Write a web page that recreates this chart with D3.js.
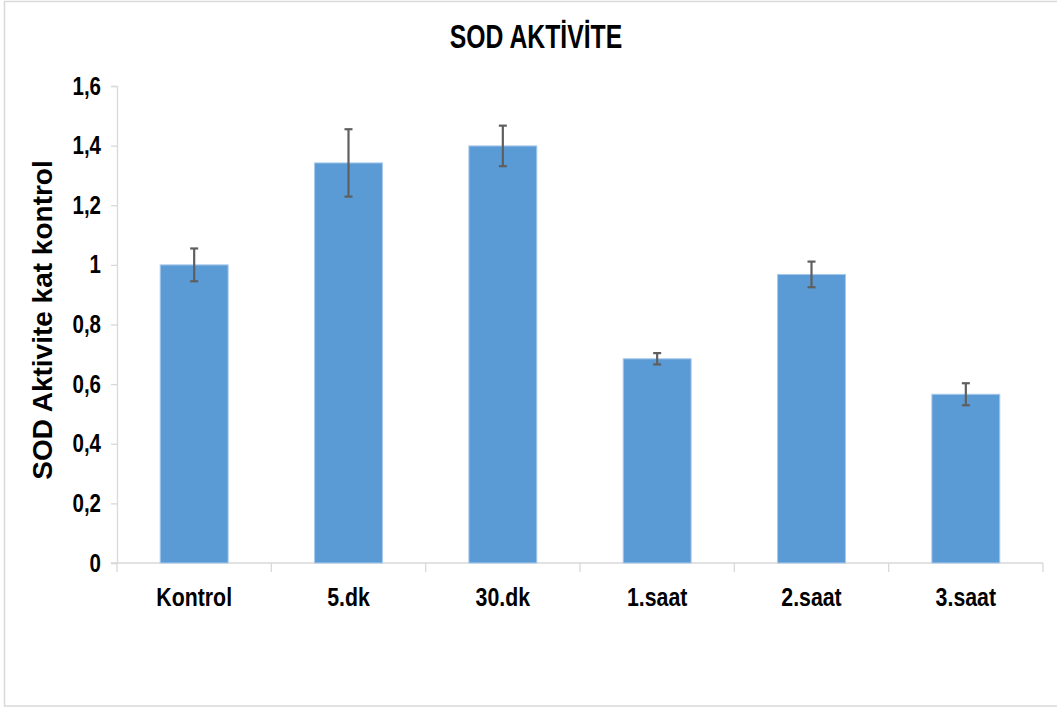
<!DOCTYPE html>
<html>
<head>
<meta charset="utf-8">
<script src="https://cdn.jsdelivr.net/npm/d3@7"></script>
<style>
  html, body { margin: 0; padding: 0; background: #fff; }
  svg { display: block; }
  .narrow { font-family: "Liberation Sans", Arial, sans-serif; font-weight: bold; }
</style>
</head>
<body>
<svg id="chart" width="1057" height="708"></svg>
<script>
// SOD activity, fold of control, with error bars
const categories = ["Kontrol", "5.dk", "30.dk", "1.saat", "2.saat", "3.saat"];
const means = [1.00, 1.342, 1.399, 0.685, 0.968, 0.566];
const errors = [0.055, 0.113, 0.068, 0.019, 0.043, 0.037];
const yTicks = [0, 0.2, 0.4, 0.6, 0.8, 1.0, 1.2, 1.4, 1.6];
const titleText = "SOD AKTİVİTE";
const yTitle = "SOD Aktivite kat kontrol";

const svg = d3.select("#chart");
const W = 1057, H = 708;
const plot = { left: 117, right: 1043, top: 86, bottom: 563 };
const squeeze = 0.82; // horizontal compression for the condensed labels

// outer chart frame
svg.append("rect")
  .attr("x", 4.5).attr("y", 1.5)
  .attr("width", W + 10).attr("height", 704.5)
  .attr("fill", "#fff").attr("stroke", "#d9d9d9").attr("stroke-width", 1.5);

const x = d3.scaleBand().domain(categories).range([plot.left, plot.right]).padding(0);
const y = d3.scaleLinear().domain([0, 1.6]).range([plot.bottom, plot.top]);
const barW = x.bandwidth() * 0.44;

// y axis
const yAxis = svg.append("g")
  .attr("transform", `translate(${plot.left},0)`)
  .call(d3.axisLeft(y).tickValues(yTicks).tickSize(6).tickPadding(16)
    .tickFormat(d => d3.format(".1~f")(d).replace(".", ",")));
yAxis.select(".domain").attr("stroke", "#d9d9d9").attr("stroke-width", 1.3);
yAxis.selectAll(".tick line").attr("stroke", "#d9d9d9").attr("stroke-width", 1.3);
yAxis.selectAll(".tick text")
  .attr("class", "narrow")
  .attr("font-size", 25)
  .attr("fill", "#000")
  .attr("x", -16 / squeeze)
  .attr("transform", `scale(${squeeze},1)`);

// x axis with boundary ticks between categories
const xAxisG = svg.append("g").attr("transform", `translate(0,${plot.bottom})`);
xAxisG.append("line")
  .attr("x1", plot.left - 6).attr("x2", plot.right)
  .attr("stroke", "#d9d9d9").attr("stroke-width", 1.5);
const bounds = categories.map(c => x(c) + x.bandwidth()).concat([plot.left]);
xAxisG.selectAll("line.bt").data(bounds).join("line")
  .attr("class", "bt")
  .attr("x1", d => d).attr("x2", d => d)
  .attr("y1", 0).attr("y2", 9)
  .attr("stroke", "#d9d9d9").attr("stroke-width", 1.3);
xAxisG.selectAll("text").data(categories).join("text")
  .attr("class", "narrow")
  .attr("transform", d => `translate(${x(d) + x.bandwidth() / 2},43) scale(${squeeze},1)`)
  .attr("text-anchor", "middle")
  .attr("font-size", 26)
  .attr("fill", "#000")
  .text(d => d);

// bars
const data = categories.map((c, i) => ({ c, v: means[i], e: errors[i] }));
svg.append("g").selectAll("rect").data(data).join("rect")
  .attr("x", d => x(d.c) + (x.bandwidth() - barW) / 2)
  .attr("y", d => y(d.v))
  .attr("width", barW)
  .attr("height", d => y(0) - y(d.v))
  .attr("fill", "#5b9bd5")
  .attr("stroke", "#a9c9ea")
  .attr("stroke-width", 1);

// error bars
const eg = svg.append("g").attr("stroke", "#5f5f5f").attr("stroke-width", 2.2);
data.forEach(d => {
  const cx = x(d.c) + x.bandwidth() / 2;
  eg.append("line").attr("x1", cx).attr("x2", cx).attr("y1", y(d.v + d.e)).attr("y2", y(d.v - d.e));
  [d.v + d.e, d.v - d.e].forEach(t => {
    eg.append("line").attr("x1", cx - 4).attr("x2", cx + 4).attr("y1", y(t)).attr("y2", y(t));
  });
});

// title
svg.append("text")
  .attr("class", "narrow")
  .attr("transform", `translate(536,48) scale(0.75,1)`)
  .attr("text-anchor", "middle")
  .attr("font-size", 33)
  .attr("fill", "#000")
  .text(titleText);

// y axis title
svg.append("text")
  .attr("transform", `translate(52,320) rotate(-90)`)
  .attr("text-anchor", "middle")
  .attr("font-family", "'Liberation Sans', Arial, sans-serif")
  .attr("font-weight", "bold")
  .attr("font-size", 28)
  .attr("fill", "#000")
  .text(yTitle);
</script>
</body>
</html>
